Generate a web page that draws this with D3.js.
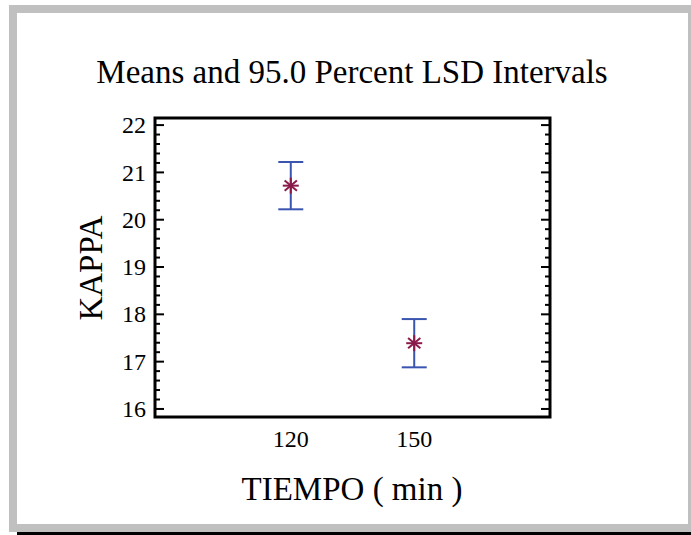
<!DOCTYPE html>
<html>
  <head>
    <meta charset="utf-8" />
    <title>Means and 95.0 Percent LSD Intervals</title>
    <script src="https://d3js.org/d3.v7.min.js"></script>
    <style>
      body { margin: 0; background: white; }
      text { font-family: "Liberation Serif", "Times New Roman", serif; fill: black; }
    </style>
  </head>
  <body>
    <svg id="chart" width="691" height="535"></svg>

    <script>
      // data
      var levels = ["120", "150"];
      var means = [20.72, 17.39];
      var halfLSD = [0.5, 0.51];
      var yTicks = [16, 17, 18, 19, 20, 21, 22];

      var svg = d3.select("#chart");
      var serif = "Liberation Serif, Times New Roman, serif";

      // grey frame + bottom black line
      svg.append("rect").attr("x", 9).attr("y", 5).attr("width", 682).attr("height", 527).attr("fill", "#c0c0c0");
      svg.append("rect").attr("x", 17).attr("y", 13).attr("width", 671).attr("height", 511).attr("fill", "white");
      svg.append("rect").attr("x", 17).attr("y", 532).attr("width", 674).attr("height", 3).attr("fill", "black");

      var plotL = 155, plotR = 550, plotT = 118, plotB = 417;

      var x = d3.scalePoint().domain(levels).range([plotL, plotR]).padding(1.1);
      var y = d3.scaleLinear().domain([15.83, 22.15]).range([plotB, plotT]);

      // minor ticks every 0.2
      var minor = d3.range(16, 22.01, 0.2).map(function(d) { return Math.round(d * 10) / 10; });

      var g = svg.append("g");

      // left and right axis ticks pointing in
      g.selectAll(".tl").data(minor).enter().append("line")
        .attr("x1", plotL).attr("x2", function(d) { return plotL + (yTicks.indexOf(d) >= 0 ? 9 : 5); })
        .attr("y1", function(d) { return y(d); }).attr("y2", function(d) { return y(d); })
        .attr("stroke", "black").attr("stroke-width", 2);
      g.selectAll(".tr").data(minor).enter().append("line")
        .attr("x1", plotR).attr("x2", function(d) { return plotR - (yTicks.indexOf(d) >= 0 ? 9 : 5); })
        .attr("y1", function(d) { return y(d); }).attr("y2", function(d) { return y(d); })
        .attr("stroke", "black").attr("stroke-width", 2);

      // frame
      g.append("rect").attr("x", plotL).attr("y", plotT).attr("width", plotR - plotL).attr("height", plotB - plotT)
        .attr("fill", "none").attr("stroke", "black").attr("stroke-width", 3);

      // y tick labels
      g.selectAll(".yl").data(yTicks).enter().append("text")
        .attr("x", plotL - 9).attr("y", function(d) { return y(d); })
        .attr("dy", "0.34em").attr("text-anchor", "end")
        .attr("font-family", serif).style("font-size", "24px").text(function(d) { return d; });

      // x tick labels
      g.selectAll(".xl").data(levels).enter().append("text")
        .attr("x", function(d) { return x(d); }).attr("y", 447)
        .attr("text-anchor", "middle").attr("font-family", serif).style("font-size", "24px")
        .text(function(d) { return d; });

      // error bars
      var blue = "#3a55b0";
      levels.forEach(function(l, i) {
        var cx = x(l), lo = y(means[i] - halfLSD[i]), hi = y(means[i] + halfLSD[i]);
        g.append("line").attr("x1", cx).attr("x2", cx).attr("y1", hi).attr("y2", lo).attr("stroke", blue).attr("stroke-width", 2);
        g.append("line").attr("x1", cx - 12.5).attr("x2", cx + 12.5).attr("y1", hi).attr("y2", hi).attr("stroke", blue).attr("stroke-width", 2);
        g.append("line").attr("x1", cx - 12.5).attr("x2", cx + 12.5).attr("y1", lo).attr("y2", lo).attr("stroke", blue).attr("stroke-width", 2);

        // asterisk marker
        var cy = y(means[i]), r = 8;
        [0, 40, -40, 90].forEach(function(a) {
          var rad = a * Math.PI / 180;
          g.append("line")
            .attr("x1", cx - r * Math.cos(rad)).attr("y1", cy - r * Math.sin(rad))
            .attr("x2", cx + r * Math.cos(rad)).attr("y2", cy + r * Math.sin(rad))
            .attr("stroke", "#8a1a4a").attr("stroke-width", 2);
        });
      });

      // title and axis labels
      svg.append("text").attr("x", 352).attr("y", 83).attr("text-anchor", "middle")
        .attr("font-family", serif).style("font-size", "33px").text("Means and 95.0 Percent LSD Intervals");
      svg.append("text").attr("x", 352).attr("y", 500).attr("text-anchor", "middle")
        .attr("font-family", serif).style("font-size", "33px").text("TIEMPO ( min )");
      svg.append("text").attr("transform", "translate(102,268) rotate(-90)").attr("text-anchor", "middle")
        .attr("font-family", serif).style("font-size", "33px").text("KAPPA");
    </script>
  </body>
</html>
